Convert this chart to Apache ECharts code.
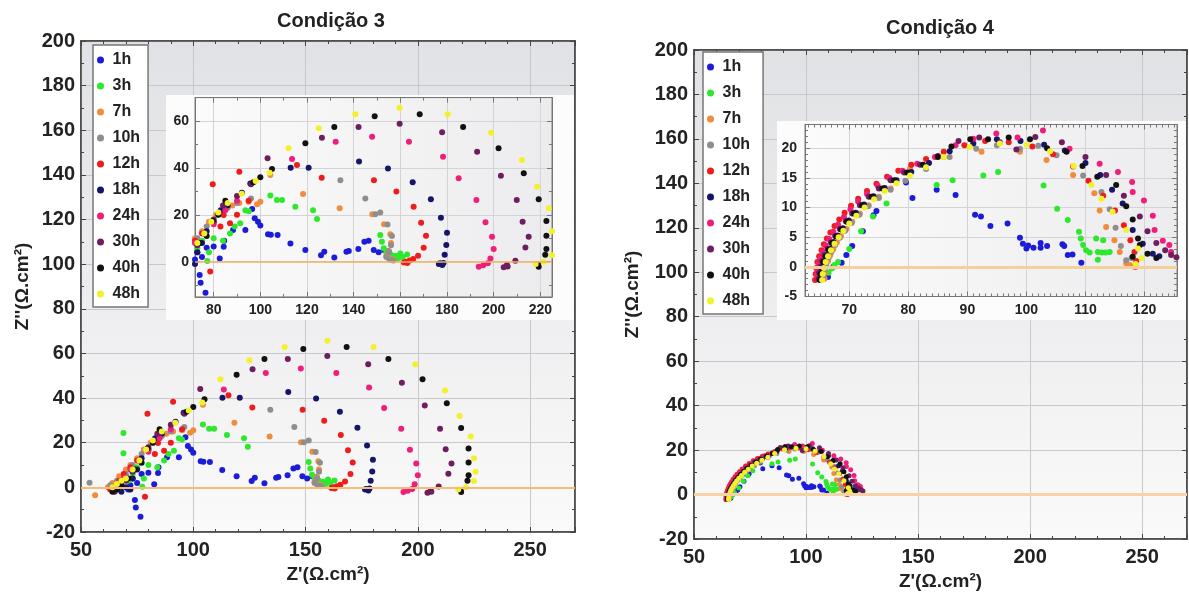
<!DOCTYPE html>
<html><head><meta charset="utf-8">
<script src="https://cdn.jsdelivr.net/npm/echarts@6/dist/echarts.min.js"></script>
<style>html,body{margin:0;padding:0;background:#fff}#c{width:1189px;height:596px}</style>
</head><body><div id="c"></div>
<script>
// ---------- labels ----------
const seriesNames = ['1h','3h','7h','10h','12h','18h','24h','30h','40h','48h'];
const seriesColors = ['#1c1cd8','#2ee82e','#f08c3c','#8e8e8e','#ee1c1c','#15156a','#f01e7a','#6e1e5e','#111111','#f2f22a'];
const panelTitles = ['Condição 3','Condição 4'];
const xAxisTitle = "Z'(Ω.cm²)";
const yAxisTitle = "Z''(Ω.cm²)";
const mainXRange = [50, 270];
const mainYRange = [-20, 200];
const inset3XRange = [72, 225];
const inset3YRange = [-15, 70];
const inset4XRange = [62.5, 125.5];
const inset4YRange = [-5, 24];

// ---------- Condição 3 ----------
const c3_1h = [[71,-1],[72,1],[73,4],[74,-5.7],[74.4,-9],[76.5,-13.2],[75,2],[77,6],[80,6.5],[82.6,1.4],[84.3,6.4],[84.5,9],[88.3,13.5],[93.6,13.5],[96.5,22.5],[97.6,18.5],[99,17],[100,15.5],[103.3,11.7],[104.5,11.5],[107.4,11.4],[112.9,7.8],[119.3,5],[126,2.8],[127.4,4.3],[131.7,1.8],[136.9,4.3],[137.9,4.6],[142,5.4],[144.6,8.5],[146.4,9],[148.6,5],[150.7,4],[153,5],[155,4.5]];
const c3_3h = [[66,2],[68.9,24.4],[68.9,15.3],[71,3],[73,6],[75,9],[77.3,0.3],[78,4],[80,10],[84,9],[87,12],[89,15],[91.4,16.4],[93.6,22],[95,21.5],[104.3,28.2],[107.1,26.3],[109.3,26.3],[115,23.5],[122.6,22],[124.3,18.2],[151.4,11.4],[152.1,8.5],[152.9,5.7],[154,4],[156,3],[158,2.5],[160,3.5],[162.9,3.1],[161,2],[159,1.5],[157,1]];
const c3_7h = [[56.3,-3.5],[62,0],[64,2],[67,5],[70,8],[72,10],[75,13],[78,17],[81,20],[84.3,22.8],[88,24],[91,25],[95,25.6],[98.6,24.5],[100,25.6],[104.3,37],[118.3,28.9],[134,22.8],[148,20.2],[153,16],[155.7,11.7],[156,8],[155,4.5],[154,2.5],[155,1.5],[157,1]];
const c3_10h = [[53.8,2.1],[63,1],[66,3],[70,6],[73,10],[77,15],[82,20],[86,23],[90,25],[96,27],[134.3,34.8],[145,27],[149.3,20.2],[151.4,21],[154.5,15.9],[156.4,11],[156,7],[155,4],[154,2],[155.5,0.8],[157,0.5]];
const c3_12h = [[63,-1],[65,0],[67,3],[69,6],[72,9],[75,12],[79.6,33],[78.5,-4.2],[80,17],[82.9,15],[84.3,19.9],[87,16.4],[90,20],[91,38.4],[95,26],[115.7,41.3],[126.3,35.8],[148.7,34.8],[158.3,29.9],[165.7,23.5],[168.9,16.6],[171,11.1],[170,6],[167.6,2.6],[165.5,1.2],[164,0.5],[162.5,0],[161.5,-0.3],[163,-0.5]];
const c3_18h = [[68,-2],[70,0],[72,-1],[73,4],[75,8],[77,13],[80,17],[83,22],[86,24],[92.1,29.4],[95.7,33.4],[113,40.1],[120.7,40.1],[142.3,42.7],[154.7,39.8],[165.3,33.9],[173.1,26.7],[177.4,18.8],[180,12.4],[179.7,7.1],[179,3],[177,-0.7],[178,-1.4],[176.5,-1],[178.5,-0.5]];
const c3_24h = [[64,-1],[66,1],[69,4],[72,8],[76,12],[80,16],[85,22],[90,26],[113.6,43.8],[132.3,51.2],[147.9,53.3],[163.7,51.2],[178.3,44.8],[185,35.6],[192.6,26.3],[196.5,16.8],[199.3,10.7],[200,5.4],[198.6,1.4],[197.5,-0.7],[193.6,-2.1],[195.5,-1.5]];
const c3_30h = [[65,-2],[67,0],[70,3],[73,7],[76,12],[80,18],[84,24],[90,28],[96,33],[103.1,44.1],[126.4,52.9],[142.1,57.5],[159.7,58.9],[177.9,55.2],[192.9,46.9],[203.1,36.7],[209.9,26.3],[212.4,17.1],[215,10.7],[213.6,6.1],[209.3,0.4],[205.7,-1.4],[204.3,-2.4],[206,-2]];
const c3_40h = [[64,-2],[66,-1],[68,1],[71,4],[74,8],[77,11],[79.6,17.4],[82,20],[85,26],[97,33.9],[100,36],[105,39.5],[119.3,50.5],[131.7,57.5],[149,62],[168.3,62.9],[186.9,57.5],[202.1,48.4],[212.9,37.7],[219.3,26.6],[222.6,17.4],[222.6,11.1],[222.6,5.4],[222.1,3],[219.3,-2.1],[219,-1.2]];
const c3_48h = [[64,0],[66,1.5],[68,3],[70,4],[73,8],[76,12],[79,17],[82,21],[86,25],[92,29],[98,34.4],[104,38],[112.1,48.4],[125,56.9],[140.7,62.9],[159.7,65.7],[180.3,62.9],[198.9,55],[212.1,43.4],[218.6,32],[223.6,22.8],[225,13],[225.7,7],[225,2.8],[221.4,0],[218,-1]];

// ---------- Condição 4 ----------
const c4_1h = [[64.8,-2],[65.2,-1],[65.6,0],[66.4,-1.7],[67.3,0],[68.7,0.7],[69.5,2],[70.5,3.5],[72.3,6],[74.1,8.7],[74.6,9.4],[79.6,14.2],[80.7,11.6],[84.8,13],[88,12.1],[91.3,8.8],[92.3,8.5],[93.9,6.9],[96.8,7.3],[98.9,4.9],[99.4,3.9],[100,3.1],[100.3,3.6],[101.2,3.2],[102.4,3.2],[102.4,4],[103.5,3.5],[106.1,3.8],[106.4,3.5],[107,2],[107.8,2.1],[109.3,0.7]];
const c4_3h = [[66.5,-1],[67,-0.3],[67.5,0.3],[68.1,0.8],[70,3],[72,6],[74,8.5],[76.3,10.7],[84.8,13.8],[87.5,14.6],[92.7,15.4],[95.2,16],[102.9,13.7],[105.2,9.8],[107,7.9],[108.9,5.9],[109.2,4.8],[109.6,3.7],[110.1,2.8],[110.7,2.4],[111.8,4.8],[112.1,2.5],[112.1,1.2],[112.8,2.4],[113,4.5],[113.4,2.4],[114.1,2.5]];
const c4_7h = [[65.8,-2],[65.9,-1],[66.1,0],[66.4,1],[66.8,2],[67.3,3],[67.9,4.1],[68.6,5.2],[69.5,6.4],[70.5,7.6],[71.8,9],[73.3,10.4],[75,11.8],[77,13.2],[80.3,16.6],[86,18.5],[92.4,19.4],[98.9,19.4],[103.4,18],[107.9,15.5],[111.5,12.4],[112.4,9.5],[113.5,6.7],[114.9,4.5],[115.8,2.5],[116.9,0.6],[117.5,0.3],[118.2,0]];
const c4_10h = [[65.6,-1.5],[65.8,-0.5],[66.1,0.5],[66.5,1.5],[67,2.6],[67.6,3.7],[68.4,4.9],[69.3,6.1],[70.4,7.4],[71.7,8.8],[73.2,10.2],[75,11.6],[77,13],[79.5,14.5],[83,16.5],[87,18.5],[91.5,19.9],[95,20.5],[98.9,19.9],[102,20.4],[105.1,18.8],[109.6,15.4],[112.7,12.6],[114.1,9.7],[115.1,6.6],[116,3.5],[116.9,1.1],[117.8,1.5]];
const c4_12h = [[64.2,-2.2],[64.3,-1.2],[64.4,-0.2],[64.6,0.8],[64.9,1.8],[65.3,2.8],[65.7,3.8],[66.2,4.8],[66.8,5.8],[67.5,6.9],[68.3,8],[69.2,9.1],[70.3,10.3],[71.5,11.5],[73,12.8],[74.6,14],[76.4,15.2],[78.3,16.2],[80.5,17.2],[83,18.2],[86,19.4],[89.5,20.5],[93,21.2],[97,21],[101,20.3],[104.5,19],[107.9,16.9],[110.5,14.5],[113,12],[115,9.5],[116.5,7],[117.6,4.5],[118.3,2.5],[118.6,1],[118.5,0]];
const c4_18h = [[65.2,-2],[65.3,-1],[65.5,0],[65.8,1],[66.2,2],[66.7,3.1],[67.3,4.2],[68,5.3],[68.9,6.5],[69.9,7.8],[71.1,9.1],[72.5,10.5],[74.1,11.9],[76,13.3],[78,14.6],[80.5,16],[83.5,17.5],[87,19.5],[91,20.8],[95,21.5],[99,21.2],[103,20.6],[106.5,19.6],[110,17.5],[112.5,15.5],[114.5,13],[116.3,10.7],[118,6.2],[119.7,3.9],[121.4,2.2],[122.5,1.8]];
const c4_24h = [[64.5,-1.5],[64.6,-0.5],[64.8,0.5],[65.1,1.5],[65.5,2.5],[66,3.6],[66.6,4.7],[67.3,5.9],[68.1,7.1],[69.1,8.4],[70.2,9.7],[71.5,11],[73,12.3],[74.8,13.7],[76.8,15],[79,16.2],[81.5,17.4],[84.5,18.5],[88,20.5],[91,21.6],[94.9,22.5],[98.5,21.8],[102.8,23],[107.3,19.9],[112.4,17.4],[115.5,16],[117.9,14.3],[118,12.6],[119.9,11.2],[121.4,8.6],[121.7,6.2],[123.1,4.4],[124.2,3.7],[124.5,2.5]];
const c4_30h = [[64.8,-2],[64.9,-1],[65.1,0],[65.4,1],[65.8,2],[66.3,3],[66.9,4.1],[67.6,5.2],[68.4,6.4],[69.4,7.7],[70.5,9],[71.8,10.4],[73.3,11.8],[75,13.2],[77,14.6],[79.3,15.9],[82,17.2],[85,18.7],[88.5,21.2],[92,21.8],[95.5,21],[98.3,19.8],[101.5,21.9],[106,21],[110,18.5],[113.5,15.5],[116.5,12],[119.2,8.5],[120.5,6],[122,4],[123.5,2.8],[124.5,2],[125.4,1.6]];
const c4_40h = [[65,-2.2],[65.1,-1.2],[65.3,-0.2],[65.6,0.8],[66,1.8],[66.5,2.9],[67.1,4],[67.8,5.1],[68.6,6.3],[69.6,7.6],[70.8,9],[72.2,10.4],[73.8,11.8],[75.6,13.2],[77.6,14.6],[79.8,15.9],[82.5,17.2],[85,18.5],[87.3,20.3],[90.5,21.5],[93.5,21.5],[97,21.8],[100.6,21.5],[103.5,20],[106.8,19.4],[109.5,17],[112,15.2],[115.2,13.8],[116.9,10.2],[118,8],[118.9,4.8],[119.2,3.7],[118,1.7],[120.5,2.2],[122,1.5]];
const c4_48h = [[65.4,-2.2],[65.5,-1.2],[65.7,-0.2],[66,0.8],[66.4,1.8],[66.9,2.8],[67.5,3.9],[68.2,5],[69,6.1],[70,7.3],[71.2,8.6],[72.6,10],[74.2,11.4],[76,12.8],[78,14.1],[80.3,15.4],[83,16.8],[86,18.5],[90.4,20.2],[95.5,20.8],[100,20.6],[104,19.5],[108,17],[111,13.8],[112.7,11.5],[114.6,9.3],[116.9,6.2],[118.9,3.1],[119.5,1.5],[118.5,0.5]];

const cond3 = [c3_1h,c3_3h,c3_7h,c3_10h,c3_12h,c3_18h,c3_24h,c3_30h,c3_40h,c3_48h];
const cond4 = [c4_1h,c4_3h,c4_7h,c4_10h,c4_12h,c4_18h,c4_24h,c4_30h,c4_40h,c4_48h];

// ---------- build ----------
const FONT = "'Liberation Sans', Arial, sans-serif";
const chart = echarts.init(document.getElementById('c'), null, {renderer:'canvas'});

const grids = [
  {left:81, top:41, width:494, height:491},
  {left:195, top:97.6, width:357, height:199.3},
  {left:694, top:50, width:493, height:491},
  {left:805, top:124.5, width:372, height:172}
];
const mainBg = {type:'linear',x:0,y:0,x2:0,y2:1,colorStops:[{offset:0,color:'#e1e2e5'},{offset:0.55,color:'#eeeef0'},{offset:1,color:'#fafafa'}]};
const insetBg = {type:'linear',x:0,y:0,x2:1,y2:0,colorStops:[{offset:0,color:'#fbfbfb'},{offset:1,color:'#ececee'}]};

const gridOpts = grids.map((g,i)=>Object.assign({}, g, {
  show:true, containLabel:false,
  backgroundColor: (i%2===0)? mainBg : insetBg,
  borderColor: (i%2===0)? '#4a4a4a' : '#808080',
  borderWidth: (i%2===0)? 1.5 : 1,
  z: (i%2===0)? 0 : 2
}));

const xAxes = [], yAxes = [];
function addAxes(gi, xr, yr, cfg) {
  const tickCol = cfg.main ? '#444' : '#777';
  const lbl = {fontSize:cfg.fs, fontWeight:'bold', color:'#222', fontFamily:FONT};
  const base = {type:'value', gridIndex:gi, z:cfg.z};
  xAxes.push(Object.assign({}, base, {
    min:xr[0], max:xr[1], position:'bottom',
    interval: cfg.xInt, splitNumber: cfg.xSplit,
    axisLine:{show:true, onZero:false, lineStyle:{color:tickCol, width:cfg.main?1.5:1}},
    axisTick:{show:true, inside:true, length:5, lineStyle:{color:tickCol}},
    minorTick:{show:true, splitNumber:cfg.xMinor, length:3, lineStyle:{color:tickCol}},
    splitLine:{show:true, lineStyle:{color:cfg.main?'#c8c8cc':'#d4d4d6', width:1}},
    axisLabel:Object.assign({margin:cfg.xMargin, showMinLabel:cfg.showMinX, showMaxLabel:false}, lbl),
    name: cfg.main ? xAxisTitle : '', nameLocation:'middle', nameGap:cfg.xNameGap,
    nameTextStyle:{fontSize:19, fontWeight:'bold', color:'#222', fontFamily:FONT}
  }));
  xAxes.push(Object.assign({}, base, {
    min:xr[0], max:xr[1], position:'top', interval: cfg.xInt, splitNumber: cfg.xSplit,
    axisLine:{show:true, onZero:false, lineStyle:{color:tickCol, width:cfg.main?1.5:1}},
    axisTick:{show:true, inside:true, length:5, lineStyle:{color:tickCol}},
    minorTick:{show:true, splitNumber:cfg.xMinor, length:3, lineStyle:{color:tickCol}},
    splitLine:{show:false}, axisLabel:{show:false}
  }));
  yAxes.push(Object.assign({}, base, {
    min:yr[0], max:yr[1], position:'left', interval: cfg.yInt, splitNumber: cfg.ySplit,
    axisLine:{show:true, onZero:false, lineStyle:{color:tickCol, width:cfg.main?1.5:1}},
    axisTick:{show:true, inside:true, length:5, lineStyle:{color:tickCol}},
    minorTick:{show:true, splitNumber:cfg.yMinor, length:3, lineStyle:{color:tickCol}},
    splitLine:{show:true, lineStyle:{color:cfg.main?'#c8c8cc':'#d4d4d6', width:1}},
    axisLabel:Object.assign({margin:cfg.yMargin, showMinLabel:cfg.showMinY, showMaxLabel:cfg.showMaxY}, lbl),
    name: cfg.main ? yAxisTitle : '', nameLocation:'middle', nameGap:cfg.yNameGap,
    nameTextStyle:{fontSize:19, fontWeight:'bold', color:'#222', fontFamily:FONT}
  }));
  yAxes.push(Object.assign({}, base, {
    min:yr[0], max:yr[1], position:'right', interval: cfg.yInt, splitNumber: cfg.ySplit,
    axisLine:{show:true, onZero:false, lineStyle:{color:tickCol, width:cfg.main?1.5:1}},
    axisTick:{show:true, inside:true, length:5, lineStyle:{color:tickCol}},
    minorTick:{show:true, splitNumber:cfg.yMinor, length:3, lineStyle:{color:tickCol}},
    splitLine:{show:false}, axisLabel:{show:false}
  }));
}
addAxes(0, mainXRange, mainYRange, {main:true, z:0, fs:20, xInt:50, yInt:20, xMinor:5, yMinor:2, xMargin:8, yMargin:6, showMinX:true, showMinY:true, showMaxY:true, xNameGap:32, yNameGap:49});
addAxes(1, inset3XRange, inset3YRange, {main:false, z:3, fs:14, xSplit:7, ySplit:5, xMinor:2, yMinor:2, xMargin:6, yMargin:6, showMinX:false, showMinY:false, showMaxY:false});
addAxes(2, mainXRange, mainYRange, {main:true, z:0, fs:20, xInt:50, yInt:20, xMinor:5, yMinor:2, xMargin:8, yMargin:6, showMinX:true, showMinY:true, showMaxY:true, xNameGap:33, yNameGap:52});
addAxes(3, inset4XRange, inset4YRange, {main:false, z:3, fs:14, xSplit:5, yInt:5, xMinor:10, yMinor:5, xMargin:7, yMargin:8, showMinX:false, showMinY:true, showMaxY:false});

const series = [];
const zeroStyles = [
  {color:'#f3bd78', width:2}, {color:'#f0b060', width:1.5},
  {color:'#f6d4a6', width:3}, {color:'#f5cf9c', width:3}
];
zeroStyles.forEach((st, gi) => {
  series.push({type:'scatter', xAxisIndex:gi*2, yAxisIndex:gi*2, data:[], z:(gi%2===0)?1:3, silent:true,
    markLine:{silent:true, symbol:['none','none'], label:{show:false}, lineStyle:Object.assign({type:'solid'}, st), data:[{yAxis:0}], animation:false}});
});
[cond3, cond4].forEach((cond, p) => {
  cond.forEach((d, i) => {
    [0,1].forEach(k => {
      const gi = p*2 + k;
      series.push({
        type:'scatter', name:seriesNames[i], xAxisIndex:gi*2, yAxisIndex:gi*2,
        data:d, symbolSize: (p===1 && k===0) ? 5 : 6,
        itemStyle:{color:seriesColors[i], opacity:1},
        z: k===0 ? 2 : 4, clip:true, silent:true
      });
    });
  });
});

const legendBase = {
  orient:'vertical', icon:'circle', itemWidth:14, itemHeight:7, itemGap:10,
  selectedMode:false, backgroundColor:'#ffffff', borderColor:'#777', borderWidth:1.5,
  textStyle:{fontSize:16, fontWeight:'bold', color:'#222', lineHeight:14, fontFamily:FONT},
  data: seriesNames
};

const option = {
  animation:false,
  backgroundColor:'#ffffff',
  grid: gridOpts,
  xAxis: xAxes,
  yAxis: yAxes,
  legend: [
    Object.assign({}, legendBase, {left:93, top:45, padding:[7,8,5,4]}),
    Object.assign({}, legendBase, {left:703, top:52, padding:[7,13,5,4]})
  ],
  graphic: [
    {type:'rect', shape:{x:166, y:95, width:408, height:225}, style:{fill:'#fcfcfc'}, z:1, silent:true},
    {type:'rect', shape:{x:777, y:121, width:409, height:199}, style:{fill:'#fcfcfc'}, z:1, silent:true},
    {type:'text', x:331, y:21, z:10, style:{text:panelTitles[0], font:'bold 20px '+FONT, fill:'#222', textAlign:'center', textVerticalAlign:'middle'}},
    {type:'text', x:940, y:28, z:10, style:{text:panelTitles[1], font:'bold 20px '+FONT, fill:'#222', textAlign:'center', textVerticalAlign:'middle'}}
  ],
  series: series
};
chart.setOption(option);
</script>
</body></html>
